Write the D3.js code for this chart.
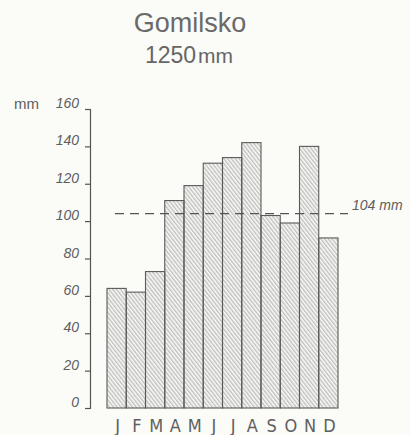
<!DOCTYPE html>
<html>
<head>
<meta charset="utf-8">
<script src="https://cdn.jsdelivr.net/npm/d3@7"></script>
<style>
  body { margin: 0; background: #fbfbf8; }
  svg { display: block; }
  .axis text { font-family: "Liberation Sans Narrow", "Liberation Sans", Arial, sans-serif; font-style: italic; font-size: 14px; fill: #5e5e5e; }
  .axis path, .axis line { stroke: #555; stroke-width: 1.2; }
</style>
</head>
<body>
<div id="chart"></div>
<script>
// monthly precipitation, Gomilsko (mm)
const months = ['J', 'F', 'M', 'A', 'M', 'J', 'J', 'A', 'S', 'O', 'N', 'D'];
const precip = [64, 62, 73, 111, 119, 131, 134, 142, 103, 99, 140, 91];
const yTicks = [0, 20, 40, 60, 80, 100, 120, 140, 160];
const average = 104;
const stationName = 'Gomilsko';
const annualTotal = '1250';

const width = 410, height = 435;

const svg = d3.select('#chart')
    .append('svg')
    .attr('width', width)
    .attr('height', height);

// hatch pattern
const defs = svg.append('defs');
defs.append('pattern')
    .attr('id', 'hatch')
    .attr('patternUnits', 'userSpaceOnUse')
    .attr('width', 3)
    .attr('height', 6)
    .attr('patternTransform', 'rotate(-38)')
    .append('line')
    .attr('x1', 0.8).attr('y1', 0)
    .attr('x2', 0.8).attr('y2', 6)
    .attr('stroke', '#8e8e8e')
    .attr('stroke-width', 0.8);

// scales
const xScale = d3.scaleBand()
    .domain(d3.range(months.length))
    .range([107, 338])
    .padding(0);
const yScale = d3.scaleLinear()
    .domain([0, 160])
    .range([408, 109]);

// title
svg.append('text')
    .attr('x', 190).attr('y', 32)
    .attr('text-anchor', 'middle')
    .style('font-family', '"Liberation Sans", Arial, sans-serif')
    .style('font-size', '27px')
    .style('fill', '#6a6a6a')
    .text(stationName);
const sub = svg.append('text')
    .attr('x', 189).attr('y', 63)
    .attr('text-anchor', 'middle')
    .style('font-family', '"Liberation Sans", Arial, sans-serif')
    .style('fill', '#666');
sub.append('tspan').style('font-size', '23px').text(annualTotal);
sub.append('tspan').attr('dx', 2).style('font-size', '21px').text('mm');

// bars
svg.append('g')
    .selectAll('rect')
    .data(precip)
    .join('rect')
    .attr('x', (d, i) => xScale(i))
    .attr('y', d => yScale(d))
    .attr('width', xScale.bandwidth())
    .attr('height', d => yScale(0) - yScale(d))
    .attr('fill', 'url(#hatch)')
    .attr('stroke', '#5a5a5a')
    .attr('stroke-width', 1.1);

// y axis
const yAxis = d3.axisLeft(yScale)
    .tickValues(yTicks)
    .tickSize(5)
    .tickSizeOuter(5)
    .tickPadding(6);
const yAxisG = svg.append('g')
    .attr('class', 'axis y-axis')
    .attr('transform', 'translate(90, 0)')
    .call(yAxis);
yAxisG.selectAll('.tick text').attr('dy', '-0.1em');

svg.append('text')
    .attr('x', 14).attr('y', 109)
    .style('font-family', '"Liberation Sans", Arial, sans-serif')
    .style('font-size', '15px')
    .style('fill', '#5e5e5e')
    .text('mm');

// month labels
svg.append('g')
    .selectAll('text')
    .data(months)
    .join('text')
    .attr('x', (d, i) => xScale(i) + xScale.bandwidth() / 2 + 1)
    .attr('y', 432)
    .attr('text-anchor', 'middle')
    .style('font-family', '"Liberation Sans Narrow", "DejaVu Sans Condensed", "Liberation Sans", sans-serif')
    .style('font-size', '18px')
    .style('fill', '#606060')
    .text(d => d);

// average line
svg.append('line')
    .attr('x1', 115).attr('x2', 348)
    .attr('y1', yScale(average)).attr('y2', yScale(average))
    .attr('stroke', '#555')
    .attr('stroke-width', 1.2)
    .attr('stroke-dasharray', '9,6');
svg.append('text')
    .attr('x', 352).attr('y', yScale(average) - 4)
    .style('font-family', '"Liberation Sans Narrow", "Liberation Sans", Arial, sans-serif')
    .style('font-style', 'italic')
    .style('font-size', '14px')
    .style('fill', '#5e5e5e')
    .text(average + ' mm');
</script>
</body>
</html>
